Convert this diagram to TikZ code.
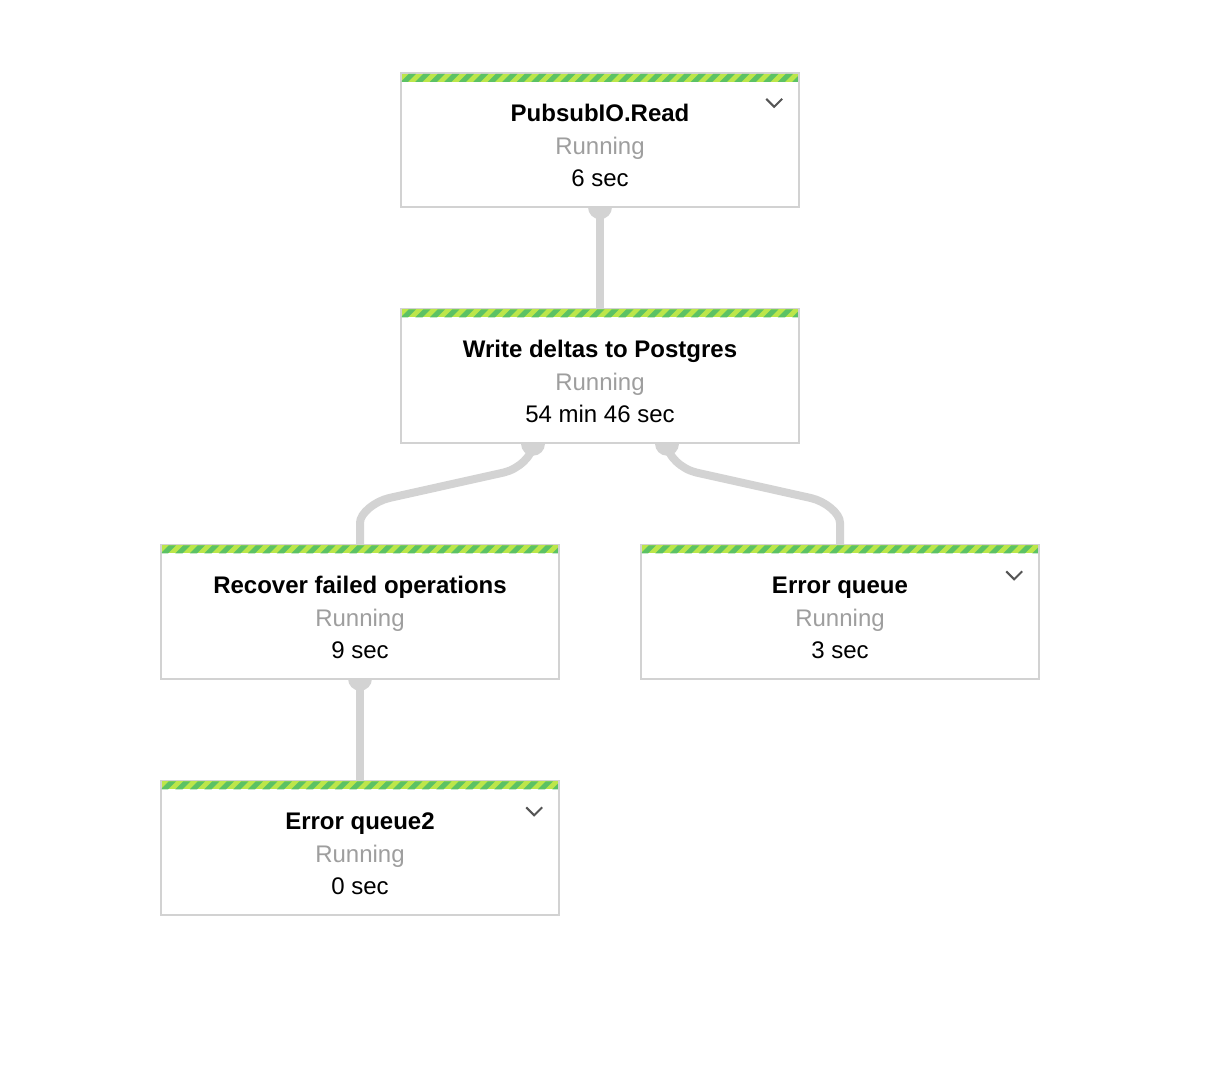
\documentclass[tikz,border=0pt]{standalone}
\usepackage{fontspec}
\setmainfont{Liberation Sans}
\usetikzlibrary{calc}
\definecolor{boxgray}{HTML}{D2D2D2}
\definecolor{conngray}{HTML}{D3D3D3}
\definecolor{stripegreen}{HTML}{5CC264}
\definecolor{stripelight}{HTML}{BCE64A}
\definecolor{rungray}{HTML}{9E9E9E}
\definecolor{chevgray}{HTML}{555555}
\tikzset{
  stepbox/.style={rectangle, draw=boxgray, line width=2pt, fill=white,
    minimum width=398pt, minimum height=134pt, inner sep=0pt},
  anchorbox/.style={rectangle, minimum width=398pt, minimum height=134pt, inner sep=0pt},
  titletext/.style={anchor=base, inner sep=0pt, font=\fontsize{24}{28}\selectfont\bfseries, text=black},
  runtext/.style={anchor=base, inner sep=0pt, font=\fontsize{24}{28}\selectfont, text=rungray},
  timetext/.style={anchor=base, inner sep=0pt, font=\fontsize{24}{28}\selectfont, text=black},
  conn/.style={draw=conngray, line width=8pt},
  port/.style={circle, fill=conngray, minimum size=24pt, inner sep=0pt},
  chevron/.style={draw=chevgray, line width=2pt},
}
\newcommand{\stripeband}[1]{%
  \begin{scope}[shift={(#1.north west)}]
    \clip (1,1) rectangle (397,9);
    \fill[stripelight] (1,1) rectangle (397,9);
    \foreach \i in {-1,...,28}{
      \fill[stripegreen] (\i*14.5,9) -- ++(8,-8) -- ++(7.25,0) -- ++(-8,8) -- cycle;
    }
  \end{scope}}
\newcommand{\steptexts}[3]{%
  \node[titletext] (#1t) at ($(#1.north)+(0,49)$) {#2};
  \node[runtext] (#1r) at ($(#1.north)+(0,82)$) {Running};
  \node[timetext] (#1d) at ($(#1.north)+(0,114)$) {#3};}
% #1 port, #2 target node, #3 direction (+1 left, -1 right)
\newcommand{\bendconn}[3]{%
  \draw[conn] (#1.center)
    .. controls ($(#1.center)+(0,12)$) and ($(#1.center)+(#3*-14.6,25.4)$) ..
    ($(#1.center)+(#3*-29.2,28.8)$)
    -- ($(#2.north)+(#3*29.2,-46.3)$)
    .. controls ($(#2.north)+(#3*14.6,-42.9)$) and ($(#2.north)+(0,-31)$) ..
    ($(#2.north)+(0,-21.5)$) -- (#2.north);}
\begin{document}
\begin{tikzpicture}[x=1pt,y=-1pt]
\useasboundingbox (0,0) rectangle (1230,1074);
% box positions
\node[anchorbox] (read) at (600,140) {};
\node[anchorbox] (write) at (600,375.5) {};
\node[anchorbox] (fail) at (360,611.5) {};
\node[anchorbox] (errq) at (840,611.5) {};
\node[anchorbox] (errq2) at (360,847.5) {};
% ports
\node[port] (p1) at (read.south) {};
\node[port] (p2) at ($(write.south)+(-67,1)$) {};
\node[port] (p3) at ($(write.south)+(67,1)$) {};
\node[port] (p4) at (fail.south) {};
% connectors
\draw[conn] (p1.center) -- (write.north);
\bendconn{p2}{fail}{1}
\bendconn{p3}{errq}{-1}
\draw[conn] (p4.center) -- (errq2.north);
% boxes
\node[stepbox] (readbox) at (read) {};
\node[stepbox] (writebox) at (write) {};
\node[stepbox] (failbox) at (fail) {};
\node[stepbox] (errqbox) at (errq) {};
\node[stepbox] (errq2box) at (errq2) {};
\stripeband{read}
\stripeband{write}
\stripeband{fail}
\stripeband{errq}
\stripeband{errq2}
\steptexts{read}{PubsubIO.Read}{6 sec}
\steptexts{write}{Write deltas to Postgres}{54 min 46 sec}
\steptexts{fail}{Recover failed operations}{9 sec}
\steptexts{errq}{Error queue}{3 sec}
\steptexts{errq2}{Error queue2}{0 sec}
% chevrons
\draw[chevron] ($(read.north east)+(-33,26)$) -- ++(8,8) -- ++(8,-8);
\draw[chevron] ($(errq.north east)+(-33,27)$) -- ++(8,8) -- ++(8,-8);
\draw[chevron] ($(errq2.north east)+(-33,27)$) -- ++(8,8) -- ++(8,-8);
\end{tikzpicture}
\end{document}
